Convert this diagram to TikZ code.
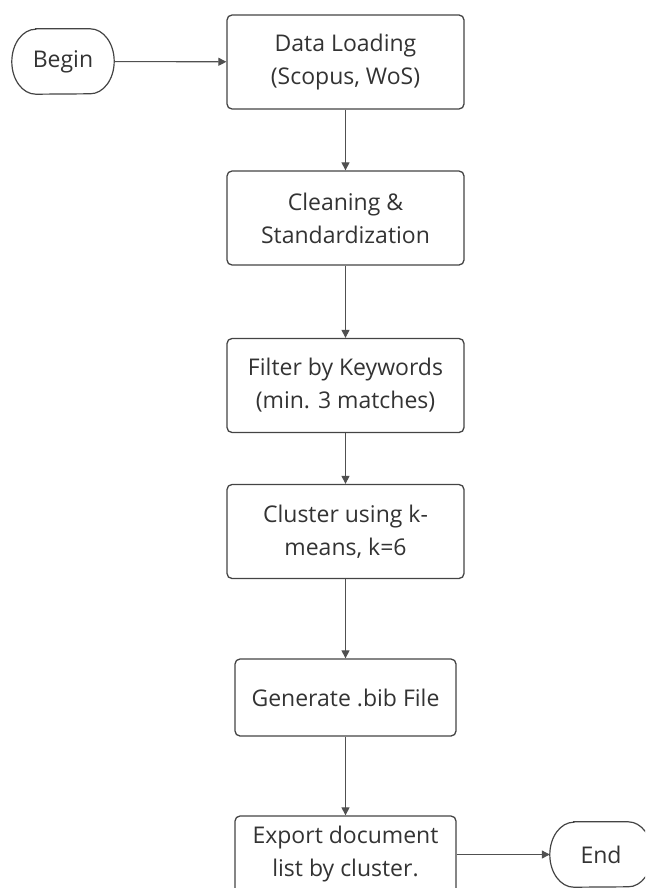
\documentclass[tikz,border=0pt]{standalone}
\usepackage{fontspec}
\setmainfont{Open Sans}
\usetikzlibrary{arrows.meta}
\definecolor{ink}{HTML}{333333}
\definecolor{frame}{HTML}{444444}
\definecolor{wire}{HTML}{505050}

% outline of a terminal (begin/end) node: straight top and bottom, elliptical ends
\newcommand\stadiumoutline[1]{%
  \draw[frame, line width=1.2pt]
    ([xshift=24pt]#1.north west) -- ([xshift=-24pt]#1.north east)
    arc[start angle=90, end angle=-90, x radius=24pt, y radius=32.5pt]
    -- ([xshift=24pt]#1.south west)
    arc[start angle=270, end angle=90, x radius=24pt, y radius=32.5pt]
    -- cycle;}

\begin{document}
\begin{tikzpicture}[x=1pt, y=1pt,
  every node/.style={text=ink, font=\fontsize{23}{33}\selectfont, align=center, inner sep=0pt},
  stepbox/.style={draw=frame, line width=1.3pt, rounded corners=5pt,
                  minimum width=237pt, minimum height=94pt},
  smallbox/.style={stepbox, minimum width=221pt, minimum height=77pt},
  terminal/.style={minimum width=102pt, minimum height=65pt},
  flow/.style={draw=wire, line width=1.1pt, -{Triangle[length=8pt, width=8pt]}}
]
\useasboundingbox (0,0) rectangle (645,-888);
\clip (0,0) rectangle (645,-888);

\node[terminal] (begin) at (63,-61.5) {Begin};
\stadiumoutline{begin}

\node[stepbox] (load)    at (345.5,-62)    {Data Loading\\(Scopus, WoS)};
\node[stepbox] (clean)   at (345.5,-218)   {Cleaning \&\\Standardization};
\node[stepbox] (filter)  at (345.5,-385.5) {Filter by Keywords\\(min. 3 matches)};
\node[stepbox] (cluster) at (345.5,-531.5) {Cluster using k-\\means, k=6};
\node[smallbox] (bib)    at (345.5,-697.5) {Generate .bib File};
\node[smallbox] (export) at (345.5,-854.5) {Export document\\list by cluster.};

\node[terminal] (end) at (601,-854.5) {End};
\stadiumoutline{end}

\draw[flow] (begin) -- (load);
\draw[flow] (load) -- (clean);
\draw[flow] (clean) -- (filter);
\draw[flow] (filter) -- (cluster);
\draw[flow] (cluster) -- (bib);
\draw[flow] (bib) -- (export);
\draw[flow] (export) -- (end);
\end{tikzpicture}
\end{document}
